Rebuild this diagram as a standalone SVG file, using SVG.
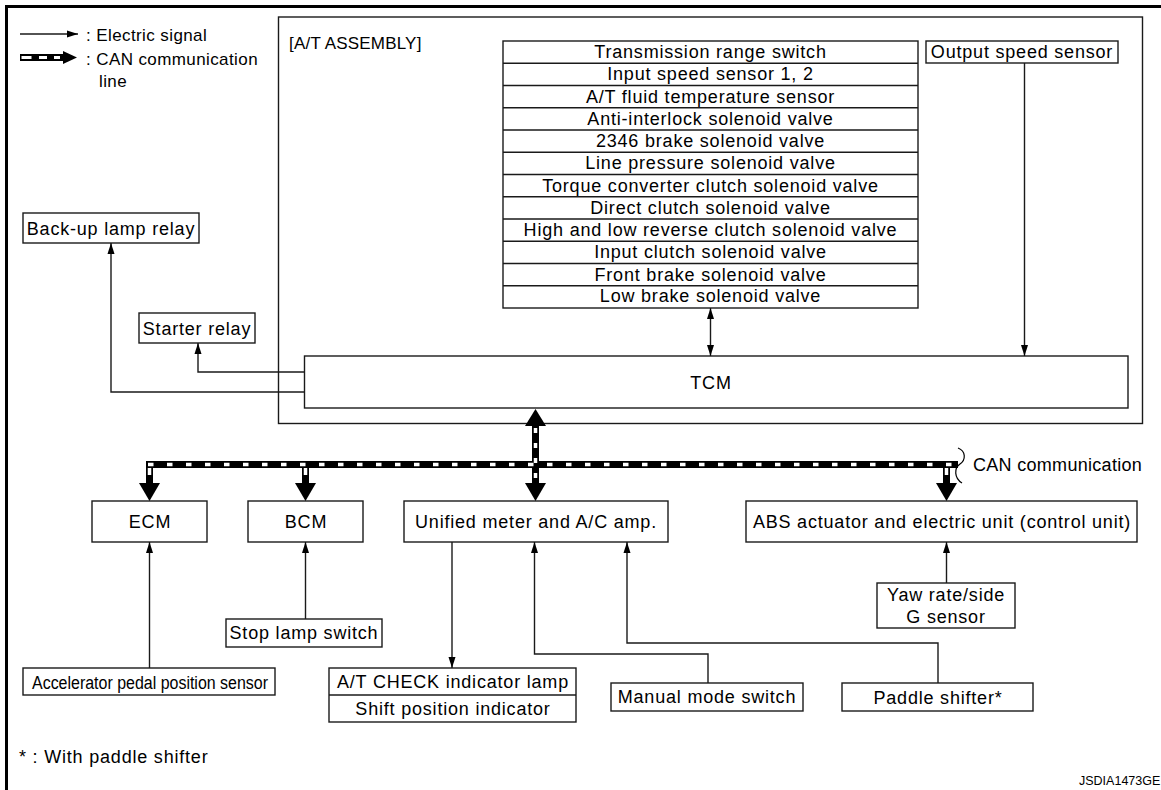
<svg xmlns="http://www.w3.org/2000/svg" width="1161" height="790" viewBox="0 0 1161 790">
<style>
.box{fill:#fff;stroke:#1a1a1a;stroke-width:1.4}
.frame{fill:none;stroke:#1a1a1a;stroke-width:1.4}
.t{font-family:"Liberation Sans",Arial,Helvetica,sans-serif;font-size:18px;letter-spacing:0.8px;fill:#000}
.s{font-size:17px;letter-spacing:0.4px}
.c{text-anchor:middle}
.wire{fill:none;stroke:#1a1a1a;stroke-width:1.4}
.can{fill:none;stroke:#000;stroke-width:7}
.canw{fill:none;stroke:#fff;stroke-width:3.5;stroke-dasharray:5.5 13.5}
.cah{fill:#000}
</style>
<defs>
<marker id="ar" markerUnits="userSpaceOnUse" markerWidth="12" markerHeight="8" refX="11" refY="3.5" orient="auto-start-reverse" viewBox="0 0 12 7">
<path d="M0,0 L11,3.5 L0,7 z" fill="#000"/>
</marker>
</defs>
<rect width="1161" height="790" fill="#fff"/>
<!-- outer border -->
<path d="M6.5,790 V6.5 H1161" fill="none" stroke="#000" stroke-width="3"/>

<!-- legend -->
<g id="legend">
<line x1="20" y1="34" x2="78" y2="34" class="wire" marker-end="url(#ar)"/>
<text x="86" y="41" class="t s">: Electric signal</text>
<rect x="20" y="54" width="44" height="7" fill="#000"/>
<rect x="21.5" y="56" width="10" height="3" fill="#fff"/>
<rect x="39" y="56" width="8" height="3" fill="#fff"/>
<rect x="54" y="56" width="6" height="3" fill="#fff"/>
<polygon points="63,51 77,57.5 63,64" fill="#000"/>
<text x="86" y="65" class="t s">: CAN communication</text>
<text x="99" y="87" class="t s">line</text>
</g>

<!-- A/T assembly frame -->
<g id="at-assembly">
<rect x="278.5" y="17" width="864" height="406.5" class="frame"/>
<text x="289" y="49" class="t" style="font-size:17px;letter-spacing:0.2px">[A/T ASSEMBLY]</text>
</g>

<!-- solenoid / sensor list -->
<g id="at-components">
<rect x="503" y="41" width="415" height="267" class="box"/>
<path d="M503,63.25 H918 M503,85.5 H918 M503,107.75 H918 M503,130 H918 M503,152.25 H918 M503,174.5 H918 M503,196.75 H918 M503,219 H918 M503,241.25 H918 M503,263.5 H918 M503,285.75 H918" class="wire"/>
<text x="710.5" y="58" class="t c">Transmission range switch</text>
<text x="710.5" y="80.2" class="t c">Input speed sensor 1, 2</text>
<text x="710.5" y="102.5" class="t c">A/T fluid temperature sensor</text>
<text x="710.5" y="124.7" class="t c">Anti-interlock solenoid valve</text>
<text x="710.5" y="147" class="t c">2346 brake solenoid valve</text>
<text x="710.5" y="169.2" class="t c">Line pressure solenoid valve</text>
<text x="710.5" y="191.5" class="t c">Torque converter clutch solenoid valve</text>
<text x="710.5" y="213.7" class="t c">Direct clutch solenoid valve</text>
<text x="710.5" y="236" class="t c">High and low reverse clutch solenoid valve</text>
<text x="710.5" y="258.2" class="t c">Input clutch solenoid valve</text>
<text x="710.5" y="280.5" class="t c">Front brake solenoid valve</text>
<text x="710.5" y="302.2" class="t c">Low brake solenoid valve</text>
</g>

<g id="output-speed-sensor">
<rect x="926" y="41" width="192" height="22" class="box"/>
<text x="1022" y="58" class="t c">Output speed sensor</text>
</g>

<g id="tcm">
<rect x="304.5" y="356" width="823.5" height="52" class="box"/>
<text x="711" y="389" class="t c">TCM</text>
</g>

<g id="backup-lamp-relay">
<rect x="23" y="213" width="176" height="30" class="box"/>
<text x="111" y="234.5" class="t c">Back-up lamp relay</text>
</g>

<g id="starter-relay">
<rect x="139" y="313" width="116" height="30" class="box"/>
<text x="197" y="334.5" class="t c">Starter relay</text>
</g>

<g id="ecm">
<rect x="92" y="501" width="115" height="41" class="box"/>
<text x="150" y="528" class="t c">ECM</text>
</g>

<g id="bcm">
<rect x="248" y="501" width="115" height="41" class="box"/>
<text x="306" y="528" class="t c">BCM</text>
</g>

<g id="unified-meter">
<rect x="404" y="501" width="264" height="41" class="box"/>
<text x="536" y="528" class="t c">Unified meter and A/C amp.</text>
</g>

<g id="abs">
<rect x="746" y="501" width="391" height="41" class="box"/>
<text x="942" y="528" class="t c">ABS actuator and electric unit (control unit)</text>
</g>

<g id="yaw-rate-sensor">
<rect x="877" y="583" width="138" height="45" class="box"/>
<text x="946" y="601" class="t c">Yaw rate/side</text>
<text x="946" y="623" class="t c">G sensor</text>
</g>

<g id="stop-lamp-switch">
<rect x="226" y="619" width="156" height="28" class="box"/>
<text x="304" y="639" class="t c">Stop lamp switch</text>
</g>

<g id="accelerator-sensor">
<rect x="23" y="668" width="252" height="27" class="box"/>
<text x="32" y="688.5" class="t" style="font-size:18px;letter-spacing:0" textLength="236" lengthAdjust="spacingAndGlyphs">Accelerator pedal position sensor</text>
</g>

<g id="indicator-lamps">
<rect x="329" y="668" width="247" height="54" class="box"/>
<line x1="329" y1="695" x2="576" y2="695" class="wire"/>
<text x="453" y="688" class="t c">A/T CHECK indicator lamp</text>
<text x="453" y="715" class="t c">Shift position indicator</text>
</g>

<g id="manual-mode-switch">
<rect x="611" y="683" width="192" height="28" class="box"/>
<text x="707" y="703" class="t c">Manual mode switch</text>
</g>

<g id="paddle-shifter">
<rect x="842" y="683" width="191" height="28" class="box"/>
<text x="938" y="704" class="t c">Paddle shifter*</text>
</g>

<!-- connectors -->
<g id="connectors">
<line x1="710.5" y1="308" x2="710.5" y2="356" class="wire" marker-start="url(#ar)" marker-end="url(#ar)"/>
<line x1="1024.5" y1="63" x2="1024.5" y2="356" class="wire" marker-end="url(#ar)"/>
<path d="M304.5,372 H198 V343" class="wire" marker-end="url(#ar)"/>
<path d="M304.5,392 H111 V243" class="wire" marker-end="url(#ar)"/>
<path d="M149.5,668 V542" class="wire" marker-end="url(#ar)"/>
<path d="M305.5,619 V542" class="wire" marker-end="url(#ar)"/>
<path d="M452,542 V668" class="wire" marker-end="url(#ar)"/>
<path d="M708,683 V654 H534.5 V542" class="wire" marker-end="url(#ar)"/>
<path d="M938,683 V643 H627 V542" class="wire" marker-end="url(#ar)"/>
<path d="M946.5,583 V542" class="wire" marker-end="url(#ar)"/>

<!-- CAN bus -->
<path d="M146,464.5 H958 M149.5,464.5 V484 M305.5,464.5 V484 M946.5,464.5 V484 M535.5,425 V484" class="can"/>
<path d="M148,464.5 H956" class="canw"/>
<path d="M149.5,468 V484 M305.5,468 V484 M946.5,468 V484" class="canw" style="stroke-dasharray:7 20"/>
<path d="M535.5,428 V482" class="canw" style="stroke-dasharray:5 10"/>
<polygon points="525,426 546,426 535.5,409" class="cah"/>
<polygon points="525,483 546,483 535.5,501" class="cah"/>
<polygon points="139,483 160,483 149.5,501" class="cah"/>
<polygon points="295,483 316,483 305.5,501" class="cah"/>
<polygon points="936,483 957,483 946.5,501" class="cah"/>
<path d="M958,448 C966,451 966,460 960,464 C954,468 954,478 962,483" fill="none" stroke="#000" stroke-width="1.2"/>
</g>
<text x="973" y="471" class="t" style="letter-spacing:0.3px">CAN communication</text>

<text x="19" y="763" class="t">* : With paddle shifter</text>
<text x="1079" y="785" class="t" style="font-size:12.5px;letter-spacing:0">JSDIA1473GE</text>
</svg>
